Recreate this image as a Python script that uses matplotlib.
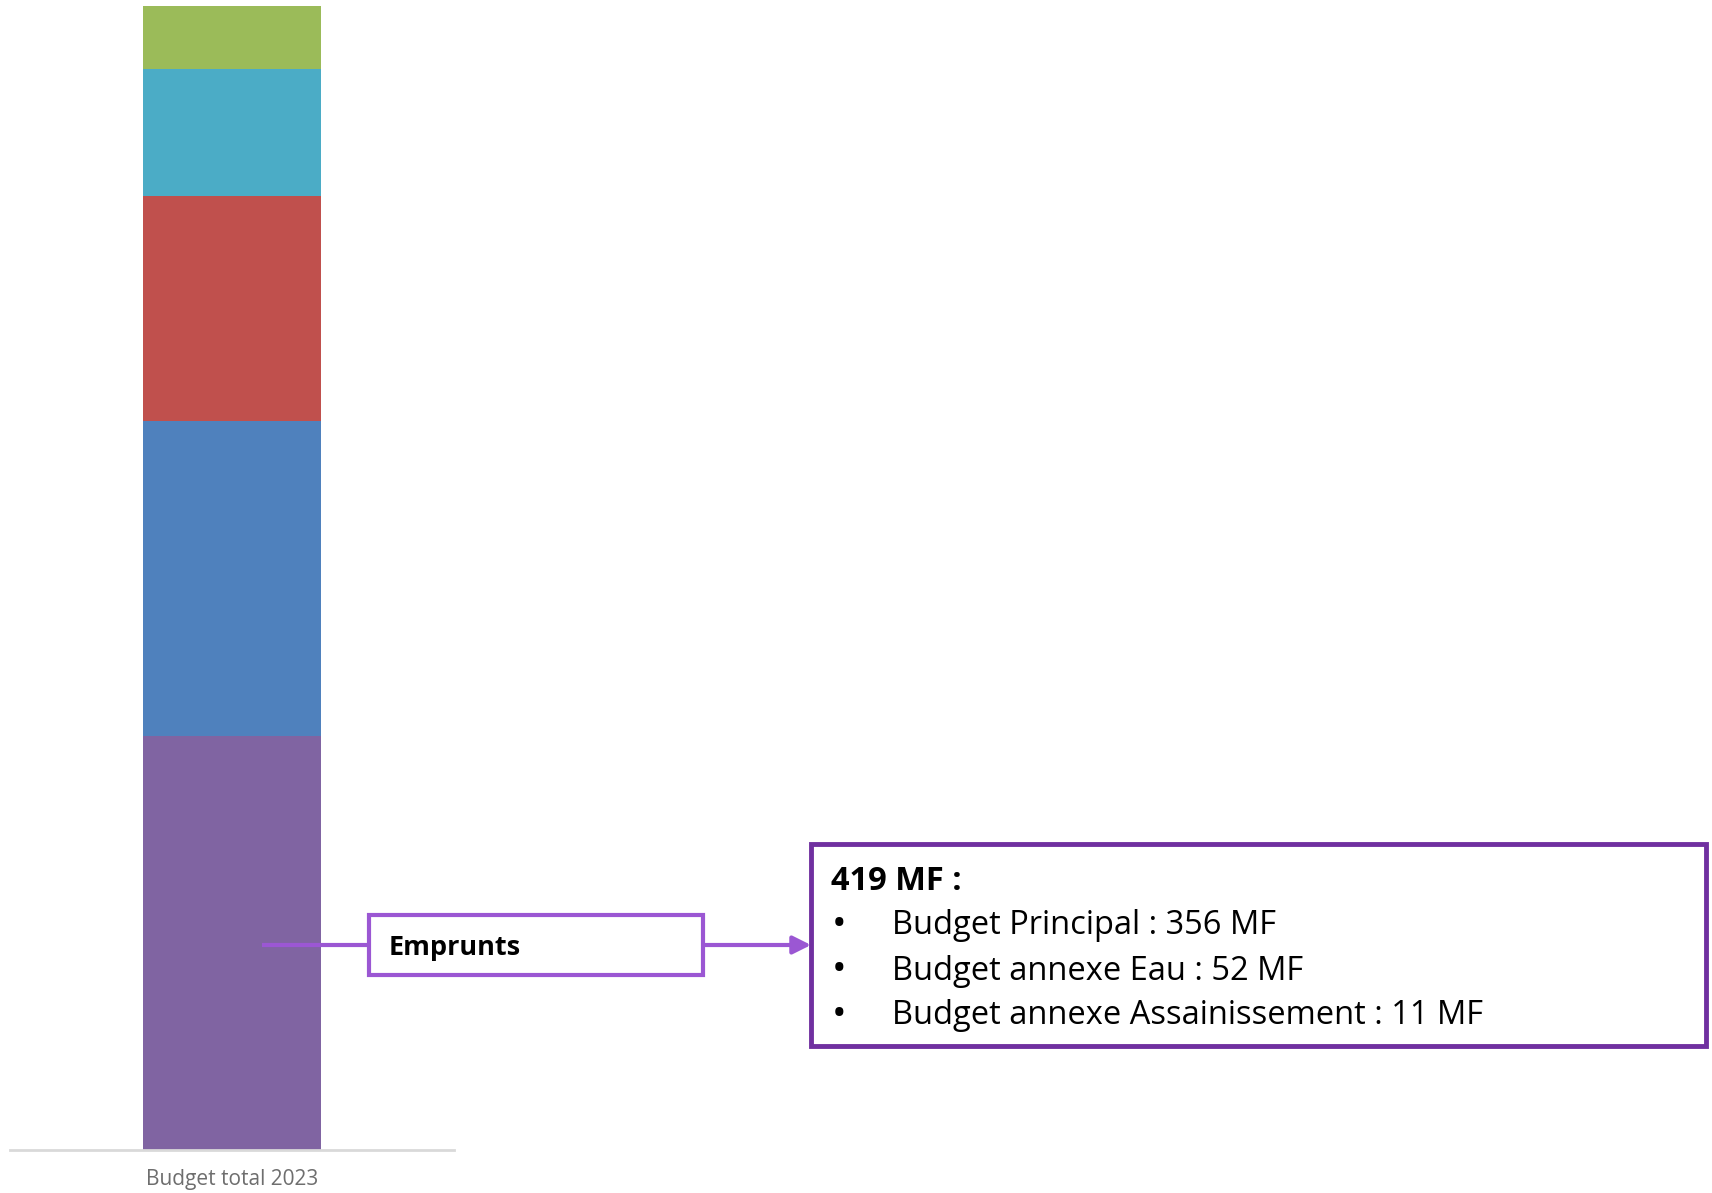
import matplotlib
matplotlib.use("Agg")
import matplotlib.pyplot as plt
from matplotlib.patches import Rectangle, FancyArrowPatch

plt.rcParams["font.family"] = ["Open Sans", "DejaVu Sans"]

# stacked segments, bottom to top (MF)
category = "Budget total 2023"
seg_values = [419, 320, 228, 128, 64]
seg_colors = ["#8064A2", "#4F81BD", "#C0504D", "#4BACC6", "#9BBB59"]

callout_label = "Emprunts"
detail_title = "419 MF :"
detail_lines = ["Budget Principal : 356 MF",
                "Budget annexe Eau : 52 MF",
                "Budget annexe Assainissement : 11 MF"]

W, H = 1712, 1193
fig = plt.figure(figsize=(W / 100, H / 100), dpi=100)

# bar chart area
ax = fig.add_axes([10 / W, (H - 1150) / H, 444 / W, (1150 - 6) / H])
bottom = 0
for v, c in zip(seg_values, seg_colors):
    ax.bar([0], [v], bottom=bottom, width=0.4, color=c, edgecolor="none")
    bottom += v
ax.set_xlim(-0.5, 0.5)
ax.set_ylim(0, sum(seg_values))
ax.set_xticks([0])
ax.set_xticklabels([category], fontsize=15, color="#6E6E6E")
ax.tick_params(axis="x", length=0, pad=14)
ax.set_yticks([])
for s in ["top", "right", "left"]:
    ax.spines[s].set_visible(False)
ax.spines["bottom"].set_color("#D9D9D9")
ax.spines["bottom"].set_linewidth(2)

# overlay in pixel coordinates for the callouts
ov = fig.add_axes([0, 0, 1, 1])
ov.set_xlim(0, W)
ov.set_ylim(H, 0)
ov.axis("off")
ov.patch.set_alpha(0)

lc = "#9B57D3"
ov.plot([262, 369], [945, 945], color=lc, lw=3, solid_capstyle="butt")
ov.add_patch(Rectangle((369, 915), 334, 60, fill=False, edgecolor=lc, lw=3))
ov.text(389, 948, callout_label, fontsize=19.5, fontweight="bold",
        va="center", ha="left", color="black")
ov.add_patch(FancyArrowPatch((703, 945), (811, 945), arrowstyle="-|>,head_length=0.6,head_width=0.3",
                             color=lc, lw=3, mutation_scale=18, shrinkA=0, shrinkB=0))

ov.add_patch(Rectangle((811, 844), 895, 202, fill=False, edgecolor="#7030A0", lw=3.5))
ov.text(831, 882, detail_title, fontsize=23.5, fontweight="bold", va="center", ha="left")
for i, line in enumerate(detail_lines):
    y = 926 + i * 45
    ov.text(832, y, "\u2022", fontsize=28, va="center", ha="left")
    ov.text(892, y, line, fontsize=23.5, va="center", ha="left")

fig.savefig("out.png", dpi=100)
